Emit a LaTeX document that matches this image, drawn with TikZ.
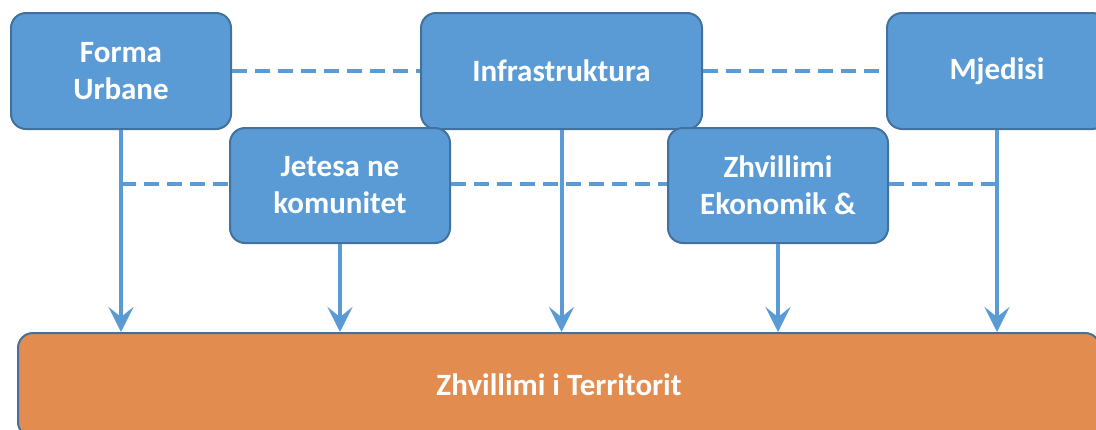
\documentclass[tikz,border=0pt]{standalone}
\usepackage{fontspec}
\setmainfont{Carlito}
\usetikzlibrary{arrows.meta}
\definecolor{boxblue}{HTML}{5B9BD5}
\definecolor{edgeblue}{HTML}{41719C}
\definecolor{boxorange}{HTML}{E28D4F}
\tikzset{
  blue box/.style={draw=edgeblue, line width=2pt, fill=boxblue, rounded corners=15pt,
    text=white, font=\fontsize{31}{37}\selectfont\bfseries, align=center,
    minimum width=220pt, minimum height=116pt, inner sep=0pt},
  orange box/.style={draw=edgeblue, line width=2pt, fill=boxorange, rounded corners=15pt,
    text=white, font=\fontsize{31}{37}\selectfont\bfseries, align=center,
    minimum width=1082pt, minimum height=104pt, inner sep=0pt},
  flow/.style={draw=boxblue, line width=4pt, -{Stealth[length=25pt,width=25pt,inset=10pt]}},
  link/.style={draw=boxblue, line width=4pt, dash pattern=on 15pt off 8pt}
}
\begin{document}
\begin{tikzpicture}[x=1pt,y=-1pt]
\useasboundingbox (0,0) rectangle (1096,429);
\node[orange box] (terr) at (559,385) {Zhvillimi i Territorit};
\node[blue box] (forma) at (121,71) {Forma\\Urbane};
\node[blue box, minimum width=281pt] (infra) at (561.5,71) {Infrastruktura};
\node[blue box] (mjed) at (997,71) {Mjedisi};
\node[blue box, minimum height=115pt] (jet) at (340,185.5) {Jetesa ne\\komunitet};
\node[blue box, minimum height=115pt] (zhv) at (778,185.5) {Zhvillimi\\Ekonomik \&};
\coordinate (fj) at (121,184);
\coordinate (mz) at (997,184);
\draw[link] (forma.east) -- (infra.west);
\draw[link] (infra.east) -- (mjed.west);
\draw[link] (fj) -- (fj -| jet.west);
\draw[link] (fj -| jet.east) -- (fj -| zhv.west);
\draw[link] (fj -| zhv.east) -- (mz);
\draw[flow] (forma.south) -- (forma.south |- terr.north);
\draw[flow] (jet.south) -- (jet.south |- terr.north);
\draw[flow] (infra.south) -- (infra.south |- terr.north);
\draw[flow] (zhv.south) -- (zhv.south |- terr.north);
\draw[flow] (mjed.south) -- (mjed.south |- terr.north);
\end{tikzpicture}
\end{document}
